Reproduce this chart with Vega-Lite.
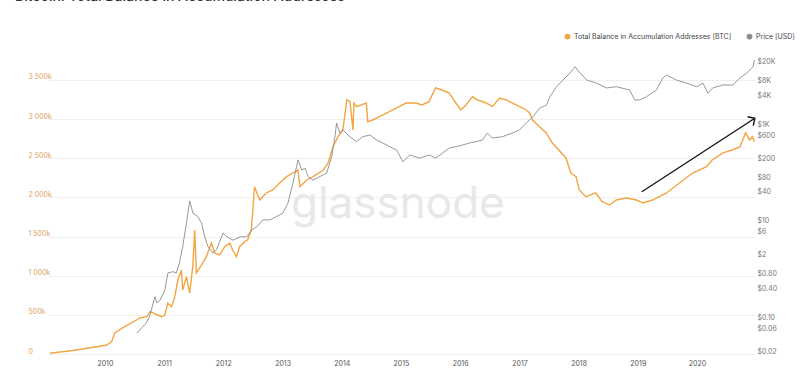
{
  "$schema": "https://vega.github.io/schema/vega-lite/v6.json",
  "width": 707,
  "height": 300,
  "autosize": {"type": "none"},
  "padding": {"left": 48, "top": 54, "right": 45, "bottom": 35},
  "background": "white",
  "config": {"view": {"stroke": null}, "font": "Inter"},
  "title": {"text": "Bitcoin: Total Balance in Accumulation Addresses", "anchor": "start", "fontSize": 14, "fontWeight": 500, "color": "#333333", "offset": 29, "dx": -13},
  "datasets": {
    "balance": [
      {"date": "2009-01-27", "value": 9000},
      {"date": "2009-06-18", "value": 45000},
      {"date": "2009-11-12", "value": 93000},
      {"date": "2010-01-12", "value": 115000},
      {"date": "2010-02-11", "value": 157000},
      {"date": "2010-03-03", "value": 268000},
      {"date": "2010-05-03", "value": 349000},
      {"date": "2010-07-15", "value": 434000},
      {"date": "2010-08-04", "value": 460000},
      {"date": "2010-09-16", "value": 476000},
      {"date": "2010-10-06", "value": 540000},
      {"date": "2010-10-24", "value": 524000},
      {"date": "2010-11-23", "value": 498000},
      {"date": "2010-12-16", "value": 476000},
      {"date": "2011-01-06", "value": 498000},
      {"date": "2011-01-24", "value": 651000},
      {"date": "2011-02-16", "value": 604000},
      {"date": "2011-03-08", "value": 732000},
      {"date": "2011-03-27", "value": 945000},
      {"date": "2011-04-18", "value": 1073000},
      {"date": "2011-04-26", "value": 818000},
      {"date": "2011-05-19", "value": 987000},
      {"date": "2011-06-08", "value": 779000},
      {"date": "2011-06-27", "value": 1115000},
      {"date": "2011-07-09", "value": 1584000},
      {"date": "2011-07-19", "value": 1035000},
      {"date": "2011-08-27", "value": 1162000},
      {"date": "2011-09-19", "value": 1243000},
      {"date": "2011-10-20", "value": 1418000},
      {"date": "2011-11-09", "value": 1290000},
      {"date": "2011-12-10", "value": 1265000},
      {"date": "2012-01-10", "value": 1371000},
      {"date": "2012-02-10", "value": 1418000},
      {"date": "2012-02-28", "value": 1328000},
      {"date": "2012-03-22", "value": 1243000},
      {"date": "2012-04-11", "value": 1371000},
      {"date": "2012-05-12", "value": 1435000},
      {"date": "2012-05-30", "value": 1456000},
      {"date": "2012-06-22", "value": 1584000},
      {"date": "2012-07-12", "value": 2137000},
      {"date": "2012-08-12", "value": 1967000},
      {"date": "2012-09-23", "value": 2057000},
      {"date": "2012-11-01", "value": 2095000},
      {"date": "2012-12-14", "value": 2184000},
      {"date": "2013-01-26", "value": 2265000},
      {"date": "2013-03-06", "value": 2312000},
      {"date": "2013-04-06", "value": 2350000},
      {"date": "2013-04-18", "value": 2137000},
      {"date": "2013-05-30", "value": 2223000},
      {"date": "2013-07-08", "value": 2265000},
      {"date": "2013-09-09", "value": 2350000},
      {"date": "2013-10-09", "value": 2440000},
      {"date": "2013-11-08", "value": 2648000},
      {"date": "2013-12-09", "value": 2776000},
      {"date": "2014-01-08", "value": 2861000},
      {"date": "2014-02-01", "value": 3245000},
      {"date": "2014-02-21", "value": 3223000},
      {"date": "2014-03-11", "value": 2861000},
      {"date": "2014-03-17", "value": 3206000},
      {"date": "2014-04-02", "value": 3159000},
      {"date": "2014-06-02", "value": 3206000},
      {"date": "2014-06-10", "value": 2967000},
      {"date": "2014-07-11", "value": 2989000},
      {"date": "2014-08-22", "value": 3031000},
      {"date": "2014-10-22", "value": 3095000},
      {"date": "2014-12-03", "value": 3142000},
      {"date": "2015-02-02", "value": 3206000},
      {"date": "2015-04-03", "value": 3206000},
      {"date": "2015-05-11", "value": 3181000},
      {"date": "2015-06-23", "value": 3223000},
      {"date": "2015-08-03", "value": 3398000},
      {"date": "2015-09-11", "value": 3372000},
      {"date": "2015-10-26", "value": 3334000},
      {"date": "2015-12-06", "value": 3206000},
      {"date": "2016-01-06", "value": 3117000},
      {"date": "2016-02-06", "value": 3181000},
      {"date": "2016-03-17", "value": 3287000},
      {"date": "2016-04-17", "value": 3245000},
      {"date": "2016-06-09", "value": 3206000},
      {"date": "2016-07-18", "value": 3159000},
      {"date": "2016-08-31", "value": 3270000},
      {"date": "2016-10-11", "value": 3245000},
      {"date": "2016-11-19", "value": 3206000},
      {"date": "2017-01-02", "value": 3159000},
      {"date": "2017-02-13", "value": 3117000},
      {"date": "2017-03-05", "value": 3078000},
      {"date": "2017-03-23", "value": 2989000},
      {"date": "2017-05-05", "value": 2904000},
      {"date": "2017-06-15", "value": 2823000},
      {"date": "2017-07-23", "value": 2695000},
      {"date": "2017-10-15", "value": 2504000},
      {"date": "2017-11-14", "value": 2312000},
      {"date": "2017-12-16", "value": 2265000},
      {"date": "2018-01-05", "value": 2095000},
      {"date": "2018-02-15", "value": 2009000},
      {"date": "2018-04-16", "value": 2057000},
      {"date": "2018-05-25", "value": 1950000},
      {"date": "2018-07-11", "value": 1903000},
      {"date": "2018-08-21", "value": 1967000},
      {"date": "2018-10-22", "value": 1993000},
      {"date": "2018-12-24", "value": 1967000},
      {"date": "2019-02-01", "value": 1929000},
      {"date": "2019-04-02", "value": 1967000},
      {"date": "2019-06-27", "value": 2057000},
      {"date": "2019-09-15", "value": 2184000},
      {"date": "2019-12-05", "value": 2312000},
      {"date": "2020-02-29", "value": 2393000},
      {"date": "2020-04-04", "value": 2478000},
      {"date": "2020-06-10", "value": 2568000},
      {"date": "2020-08-05", "value": 2606000},
      {"date": "2020-09-23", "value": 2648000},
      {"date": "2020-10-27", "value": 2823000},
      {"date": "2020-11-20", "value": 2734000},
      {"date": "2020-12-08", "value": 2776000},
      {"date": "2020-12-20", "value": 2712000}
    ],
    "price": [
      {"date": "2010-07-17", "value": 0.054},
      {"date": "2010-08-04", "value": 0.063},
      {"date": "2010-09-13", "value": 0.088},
      {"date": "2010-10-03", "value": 0.119},
      {"date": "2010-11-06", "value": 0.31},
      {"date": "2010-11-17", "value": 0.23},
      {"date": "2010-12-07", "value": 0.26},
      {"date": "2011-01-06", "value": 0.43},
      {"date": "2011-01-25", "value": 0.96},
      {"date": "2011-02-24", "value": 1.02},
      {"date": "2011-03-17", "value": 0.96},
      {"date": "2011-04-06", "value": 1.55},
      {"date": "2011-04-26", "value": 3.4},
      {"date": "2011-05-19", "value": 10.4},
      {"date": "2011-06-08", "value": 30},
      {"date": "2011-06-28", "value": 16.8},
      {"date": "2011-07-28", "value": 14.2},
      {"date": "2011-08-20", "value": 10.4},
      {"date": "2011-09-09", "value": 5.4},
      {"date": "2011-09-28", "value": 3.4},
      {"date": "2011-10-28", "value": 2.5},
      {"date": "2011-11-20", "value": 2.9},
      {"date": "2011-12-31", "value": 6.5},
      {"date": "2012-01-23", "value": 5.4},
      {"date": "2012-03-02", "value": 4.6},
      {"date": "2012-04-14", "value": 5.4},
      {"date": "2012-05-25", "value": 5.4},
      {"date": "2012-06-25", "value": 7.5},
      {"date": "2012-07-26", "value": 8.7},
      {"date": "2012-09-02", "value": 12.1},
      {"date": "2012-10-15", "value": 12.1},
      {"date": "2012-11-25", "value": 14.2},
      {"date": "2013-01-03", "value": 16.8},
      {"date": "2013-02-03", "value": 27},
      {"date": "2013-03-06", "value": 70},
      {"date": "2013-04-06", "value": 212},
      {"date": "2013-04-29", "value": 131},
      {"date": "2013-05-19", "value": 144},
      {"date": "2013-06-07", "value": 96},
      {"date": "2013-07-07", "value": 81},
      {"date": "2013-08-19", "value": 96},
      {"date": "2013-09-30", "value": 114},
      {"date": "2013-10-31", "value": 248},
      {"date": "2013-11-20", "value": 644},
      {"date": "2013-11-30", "value": 1241},
      {"date": "2013-12-20", "value": 770},
      {"date": "2014-01-08", "value": 887},
      {"date": "2014-02-20", "value": 644},
      {"date": "2014-04-02", "value": 508},
      {"date": "2014-05-11", "value": 644},
      {"date": "2014-06-23", "value": 700},
      {"date": "2014-08-03", "value": 551},
      {"date": "2014-09-11", "value": 477},
      {"date": "2014-10-25", "value": 400},
      {"date": "2014-12-05", "value": 341},
      {"date": "2015-01-13", "value": 195},
      {"date": "2015-02-24", "value": 269},
      {"date": "2015-04-25", "value": 232},
      {"date": "2015-06-25", "value": 269},
      {"date": "2015-08-05", "value": 232},
      {"date": "2015-09-14", "value": 295},
      {"date": "2015-10-27", "value": 375},
      {"date": "2015-12-08", "value": 400},
      {"date": "2016-01-16", "value": 433},
      {"date": "2016-02-28", "value": 477},
      {"date": "2016-04-09", "value": 508},
      {"date": "2016-05-18", "value": 551},
      {"date": "2016-06-17", "value": 770},
      {"date": "2016-07-18", "value": 605},
      {"date": "2016-09-18", "value": 644},
      {"date": "2016-11-19", "value": 770},
      {"date": "2017-01-01", "value": 887},
      {"date": "2017-02-12", "value": 1241},
      {"date": "2017-03-25", "value": 1675},
      {"date": "2017-05-07", "value": 2540},
      {"date": "2017-06-17", "value": 2930},
      {"date": "2017-07-08", "value": 4360},
      {"date": "2017-08-18", "value": 7020},
      {"date": "2017-09-27", "value": 9680},
      {"date": "2017-11-09", "value": 13550},
      {"date": "2017-12-10", "value": 18270},
      {"date": "2018-01-10", "value": 13550},
      {"date": "2018-02-20", "value": 9680},
      {"date": "2018-04-21", "value": 8350},
      {"date": "2018-06-22", "value": 6610},
      {"date": "2018-08-22", "value": 7020},
      {"date": "2018-11-12", "value": 5990},
      {"date": "2018-12-13", "value": 3730},
      {"date": "2019-01-13", "value": 3730},
      {"date": "2019-02-24", "value": 4360},
      {"date": "2019-04-26", "value": 5990},
      {"date": "2019-06-04", "value": 10650},
      {"date": "2019-06-27", "value": 12220},
      {"date": "2019-08-27", "value": 9680},
      {"date": "2019-10-27", "value": 8350},
      {"date": "2019-12-31", "value": 7020},
      {"date": "2020-02-07", "value": 8350},
      {"date": "2020-03-08", "value": 5200},
      {"date": "2020-04-08", "value": 6610},
      {"date": "2020-06-08", "value": 7620},
      {"date": "2020-08-09", "value": 7620},
      {"date": "2020-09-23", "value": 10650},
      {"date": "2020-11-04", "value": 13550},
      {"date": "2020-12-12", "value": 18270},
      {"date": "2020-12-20", "value": 25170}
    ],
    "arrow": [
      {"start": "2019-01-26", "end": "2020-12-23", "from": 2073000, "to": 3011000}
    ],
    "watermark": [
      {"date": "2014-12-13", "value": 1903000, "label": "glassnode"}
    ]
  },
  "layer": [
    {
      "layer": [
        {
          "data": {"name": "watermark"},
          "mark": {"type": "text", "fontSize": 44, "color": "#e8e8e8", "fontWeight": 400, "baseline": "middle", "align": "center"},
          "encoding": {
            "x": {"field": "date", "type": "temporal", "title": null, "scale": {"domain": [{"year": 2009, "month": 1, "date": 15}, {"year": 2020, "month": 12, "date": 24}]}},
            "y": {"field": "value", "type": "quantitative", "title": null, "scale": {"domain": [0, 3832000], "nice": false}},
            "text": {"field": "label"}
          }
        },
        {
          "data": {"name": "balance"},
          "mark": {"type": "line", "strokeWidth": 1.4},
          "encoding": {
            "x": {
              "field": "date", "type": "temporal", "title": null,
              "scale": {"domain": [{"year": 2009, "month": 1, "date": 15}, {"year": 2020, "month": 12, "date": 24}]},
              "axis": {
                "values": [{"year": 2010}, {"year": 2011}, {"year": 2012}, {"year": 2013}, {"year": 2014}, {"year": 2015}, {"year": 2016}, {"year": 2017}, {"year": 2018}, {"year": 2019}, {"year": 2020}],
                "format": "%Y", "labelColor": "#555555", "labelFontSize": 7, "domain": false, "ticks": false, "grid": false,
                "labelPadding": 5, "labelFlush": false, "labelOverlap": false
              }
            },
            "y": {
              "field": "value", "type": "quantitative", "title": null,
              "scale": {"domain": [0, 3832000], "nice": false},
              "axis": {
                "values": [0, 500000, 1000000, 1500000, 2000000, 2500000, 3000000, 3500000],
                "labelExpr": "datum.value == 0 ? '0' : (datum.value < 1000000 ? (datum.value / 1000) + 'k' : floor(datum.value / 1000000) + ' ' + format((datum.value % 1000000) / 1000, '03d') + 'k')",
                "grid": true, "gridColor": "#efefef", "gridWidth": 1, "domain": false, "ticks": false,
                "labelAlign": "left", "labelBaseline": "bottom", "labelPadding": 20,
                "labelColor": "#e0a25a", "labelFontSize": 7, "labelFlush": false, "labelOverlap": false
              }
            },
            "color": {
              "datum": "Total Balance in Accumulation Addresses [BTC]",
              "scale": {"domain": ["Total Balance in Accumulation Addresses [BTC]", "Price [USD]"], "range": ["#f2a544", "#8c8c8c"]},
              "legend": {
                "orient": "none", "legendX": 516, "legendY": -21, "direction": "horizontal", "title": null,
                "symbolType": "circle", "symbolSize": 8, "symbolStrokeWidth": 3,
                "labelFontSize": 7, "labelColor": "#444444", "columnPadding": 10, "labelOffset": 3
              }
            }
          }
        },
        {
          "data": {"name": "arrow"},
          "mark": {"type": "rule", "color": "#111111", "strokeWidth": 1.3},
          "encoding": {
            "x": {"field": "start", "type": "temporal", "title": null, "scale": {"domain": [{"year": 2009, "month": 1, "date": 15}, {"year": 2020, "month": 12, "date": 24}]}},
            "x2": {"field": "end"},
            "y": {"field": "from", "type": "quantitative", "title": null, "scale": {"domain": [0, 3832000], "nice": false}},
            "y2": {"field": "to"}
          }
        },
        {
          "data": {"name": "arrow"},
          "mark": {"type": "point", "shape": "M -1 -1 L 0 0 L -1 1", "filled": false, "stroke": "#111111", "strokeWidth": 1.4, "size": 110, "angle": -33, "opacity": 1},
          "encoding": {
            "x": {"field": "end", "type": "temporal", "title": null, "scale": {"domain": [{"year": 2009, "month": 1, "date": 15}, {"year": 2020, "month": 12, "date": 24}]}},
            "y": {"field": "to", "type": "quantitative", "title": null, "scale": {"domain": [0, 3832000], "nice": false}}
          }
        }
      ]
    },
    {
      "data": {"name": "price"},
      "mark": {"type": "line", "strokeWidth": 0.9},
      "encoding": {
        "x": {"field": "date", "type": "temporal", "title": null, "scale": {"domain": [{"year": 2009, "month": 1, "date": 15}, {"year": 2020, "month": 12, "date": 24}]}},
        "y": {
          "field": "value", "type": "quantitative", "title": null,
          "scale": {"type": "log", "domain": [0.02, 33500], "nice": false},
          "axis": {
            "orient": "right",
            "values": [0.02, 0.06, 0.1, 0.4, 0.8, 2, 6, 10, 40, 80, 200, 600, 1000, 4000, 8000, 20000],
            "labelExpr": "datum.value >= 1000 ? '$' + (datum.value / 1000) + 'K' : (datum.value >= 1 ? '$' + datum.value : '$' + format(datum.value, '.2f'))",
            "grid": false, "domain": false, "ticks": false, "labelPadding": 2, "labelBaseline": "bottom",
            "labelColor": "#777777", "labelFontSize": 7, "labelFlush": false, "labelOverlap": false
          }
        },
        "color": {"datum": "Price [USD]"}
      }
    }
  ],
  "resolve": {"scale": {"y": "independent"}, "axis": {"y": "independent"}}
}
